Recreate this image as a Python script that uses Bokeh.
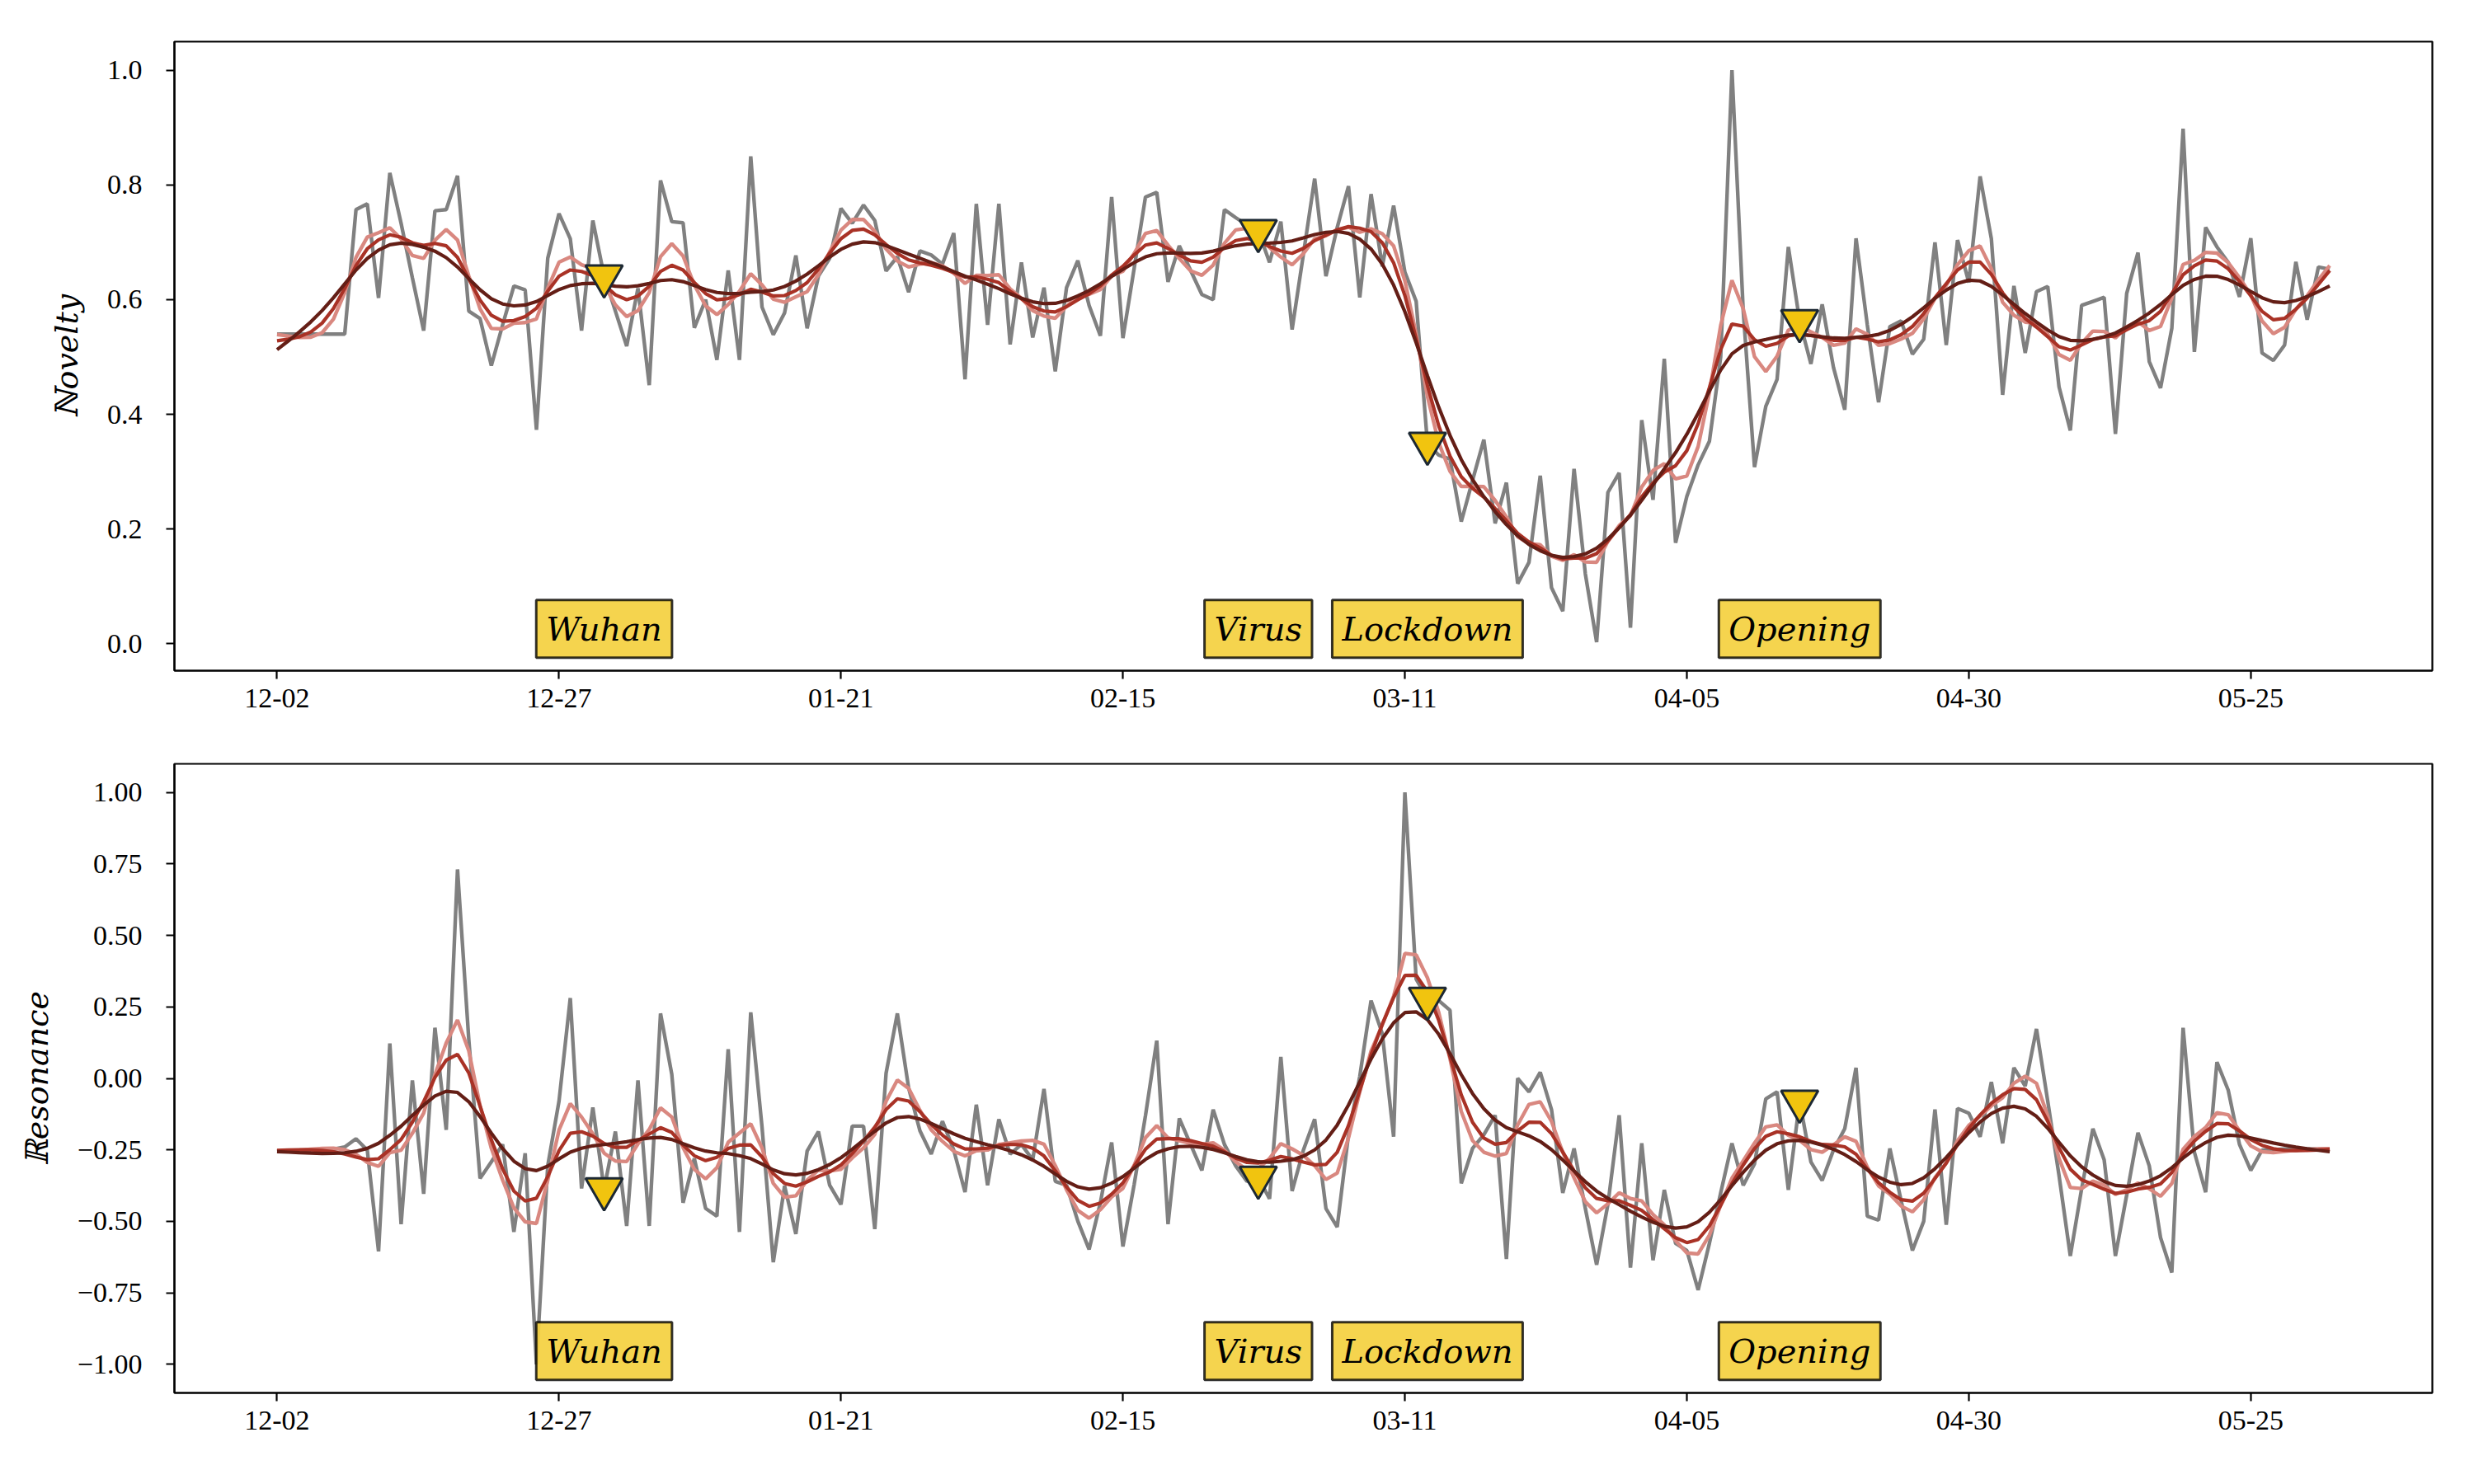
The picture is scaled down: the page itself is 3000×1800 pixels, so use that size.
import numpy as np
import pandas as pd
from bokeh.plotting import figure
from bokeh.models import ColumnDataSource, Range1d, FixedTicker, DatetimeTickFormatter, Label
from bokeh.layouts import column
from bokeh.embed import file_html
from bokeh.resources import INLINE

# ---------------- data ----------------
start_date = "2019-12-02"

novelty = [
    .54, .54, .54, .54, .54, .54, .54, .757, .767, .603,
    .821, .733, .638, .546, .755, .757, .816, .58, .567, .485,
    .556, .624, .617, .373, .672, .75, .706, .546, .738, .641,
    .58, .519, .62, .451, .808, .736, .734, .551, .60, .495,
    .651, .495, .85, .587, .539, .577, .677, .55, .641, .672,
    .759, .733, .765, .738, .65, .675, .613, .685, .678, .662,
    .716, .461, .767, .556, .767, .522, .665, .534, .621, .475,
    .621, .668, .59, .537, .779, .533, .655, .779, .787, .631,
    .694, .651, .609, .60, .757, .743, .73, .72, .665, .736,
    .548, .679, .811, .641, .726, .798, .604, .784, .658, .764,
    .648, .597, .349, .329, .322, .213, .285, .356, .21, .281,
    .105, .142, .293, .098, .057, .305, .122, .003, .264, .298,
    .028, .39, .251, .497, .176, .257, .312, .353, .50, 1.0,
    .58, .308, .414, .461, .692, .563, .488, .592, .482, .408,
    .707, .556, .421, .553, .563, .505, .531, .70, .521, .704,
    .63, .815, .706, .434, .624, .507, .614, .623, .448, .372,
    .59, .597, .604, .366, .611, .682, .492, .446, .55, .898,
    .509, .726, .692, .665, .605, .707, .507, .494, .521, .666,
    .565, .657, .653,
]

resonance = [
    -.254, -.253, -.252, -.25, -.249, -.248, -.24, -.211, -.251, -.605,
    .122, -.51, -.007, -.404, .177, -.18, .731, .136, -.35, -.292,
    -.231, -.537, -.262, -1.0, -.306, -.08, .281, -.385, -.102, -.387,
    -.186, -.516, -.007, -.516, .227, .014, -.435, -.28, -.455, -.482,
    .102, -.537, .231, -.17, -.643, -.376, -.544, -.254, -.186, -.374,
    -.441, -.167, -.167, -.527, .018, .227, -.034, -.183, -.265, -.15,
    -.251, -.398, -.092, -.374, -.143, -.265, -.231, -.285, -.037, -.36,
    -.374, -.499, -.598, -.435, -.224, -.588, -.37, -.13, .132, -.51,
    -.14, -.231, -.322, -.109, -.231, -.306, -.36, -.347, -.421, .075,
    -.394, -.251, -.143, -.455, -.52, -.197, .007, .272, .156, -.204,
    1.0, .347, .279, .272, .238, -.367, -.245, -.197, -.129, -.632,
    0.0, -.047, .021, -.109, -.401, -.245, -.455, -.652, -.441, -.129,
    -.662, -.227, -.636, -.39, -.577, -.602, -.74, -.577, -.401, -.227,
    -.374, -.299, -.072, -.047, -.39, -.081, -.292, -.357, -.251, -.176,
    .037, -.482, -.496, -.245, -.428, -.602, -.5, -.109, -.512, -.105,
    -.122, -.204, -.013, -.227, .037, -.027, .173, -.08, -.34, -.621,
    -.387, -.176, -.285, -.621, -.408, -.19, -.306, -.557, -.679, .177,
    -.258, -.398, .057, -.041, -.231, -.322, -.251, -.249, -.247, -.247,
    -.247, -.247, -.247,
]

event_names = ["Wuhan", "Virus", "Lockdown", "Opening"]
event_dates = ["2019-12-31", "2020-02-27", "2020-03-13", "2020-04-15"]

x_tick_dates = ["2019-12-02", "2019-12-27", "2020-01-21", "2020-02-15",
                "2020-03-11", "2020-04-05", "2020-04-30", "2020-05-25"]

novelty_ticks = [0.0, 0.2, 0.4, 0.6, 0.8, 1.0]
novelty_tick_labels = ["0.0", "0.2", "0.4", "0.6", "0.8", "1.0"]
resonance_ticks = [-1.0, -0.75, -0.5, -0.25, 0.0, 0.25, 0.5, 0.75, 1.0]
resonance_tick_labels = ["\u22121.00", "\u22120.75", "\u22120.50", "\u22120.25",
                         "0.00", "0.25", "0.50", "0.75", "1.00"]

# smoothing strengths (penalised-spline lambda) for the three smoothed curves
smoothing = [2.0, 8.0, 45.0]

# ---------------- helpers ----------------
def smooth_spline(y, lam):
    """Discrete cubic smoothing spline (Whittaker smoother, 2nd differences)."""
    y = np.asarray(y, dtype=float)
    n = len(y)
    D = np.diff(np.eye(n), 2, axis=0)
    A = np.eye(n) + lam * D.T @ D
    return np.linalg.solve(A, y)


def ms(d):
    return pd.Timestamp(d).value / 1e6


dates = pd.date_range(start_date, periods=len(novelty), freq="D")
n = len(dates)
day_ms = 86400000.0
x_start = ms(dates[0]) - 0.05 * (n - 1) * day_ms
x_end = ms(dates[-1]) + 0.05 * (n - 1) * day_ms

GRAY = "#808080"
LIGHT = "#D98880"
RED = "#A93226"
DARK = "#641E16"
SERIF = "Liberation Serif"
MATH = "DejaVu Serif"


def make_panel(values, ylabel, yticks, ylabels, height, top_b, bottom_b):
    vals = np.asarray(values, dtype=float)
    lo, hi = vals.min(), vals.max()
    pad = 0.05 * (hi - lo)
    p = figure(width=2969, height=height, x_axis_type="datetime",
               output_backend="svg", toolbar_location=None,
               x_range=Range1d(x_start, x_end),
               y_range=Range1d(lo - pad, hi + pad),
               min_border_left=211, min_border_right=20,
               min_border_top=top_b, min_border_bottom=bottom_b)
    p.background_fill_color = "white"
    p.border_fill_color = "white"
    p.outline_line_color = "black"
    p.outline_line_width = 2.2
    p.xgrid.grid_line_color = None
    p.ygrid.grid_line_color = None

    src = ColumnDataSource(dict(
        date=dates, raw=vals,
        s1=smooth_spline(vals, smoothing[0]),
        s2=smooth_spline(vals, smoothing[1]),
        s3=smooth_spline(vals, smoothing[2])))
    p.line("date", "raw", source=src, line_color=GRAY, line_width=4.4)
    p.line("date", "s1", source=src, line_color=LIGHT, line_width=4.4)
    p.line("date", "s2", source=src, line_color=RED, line_width=4.2)
    p.line("date", "s3", source=src, line_color=DARK, line_width=4.2)

    ev_idx = [(pd.Timestamp(d) - dates[0]).days for d in event_dates]
    ev_src = ColumnDataSource(dict(date=pd.to_datetime(event_dates),
                                   y=[vals[i] for i in ev_idx]))
    p.scatter("date", "y", source=ev_src, marker="inverted_triangle", size=45,
              fill_color="#F1C40F", line_color="#1C2833", line_width=3)

    for name, d in zip(event_names, event_dates):
        p.add_layout(Label(x=ms(d), y=lo, text=name, text_align="center",
                           text_baseline="middle", y_offset=16, text_font=MATH,
                           text_font_style="italic", text_font_size="40px",
                           text_color="black",
                           background_fill_color="#F4D03F", background_fill_alpha=0.92,
                           border_line_color="black", border_line_alpha=0.8,
                           border_line_width=3, padding=12))

    xa = p.xaxis[0]
    xa.ticker = FixedTicker(ticks=[ms(d) for d in x_tick_dates])
    fmt = "%m-%d"
    xa.formatter = DatetimeTickFormatter(microseconds=fmt, milliseconds=fmt, seconds=fmt,
                                         minsec=fmt, minutes=fmt, hourmin=fmt, hours=fmt,
                                         days=fmt, months=fmt, years=fmt)
    ya = p.yaxis[0]
    ya.ticker = FixedTicker(ticks=yticks)
    ya.major_label_overrides = {t: l for t, l in zip(yticks, ylabels)}
    ya.axis_label = ylabel
    ya.axis_label_text_font = MATH
    ya.axis_label_text_font_style = "italic"
    ya.axis_label_text_font_size = "38px"
    ya.axis_label_text_color = "black"
    ya.axis_label_standoff = 24
    for ax in (xa, ya):
        ax.axis_line_color = "black"
        ax.axis_line_width = 2.2
        ax.major_tick_line_color = "black"
        ax.major_tick_line_width = 2.2
        ax.major_tick_out = 10
        ax.major_tick_in = 0
        ax.minor_tick_line_color = None
        ax.major_label_text_font = SERIF
        ax.major_label_text_font_size = "34px"
        ax.major_label_text_color = "black"
    xa.major_label_standoff = 12
    ya.major_label_standoff = 29
    return p


p1 = make_panel(novelty, "\u2115ovelty", novelty_ticks, novelty_tick_labels, 873, 50, 60)
p2 = make_panel(resonance, "\u211Desonance", resonance_ticks, resonance_tick_labels, 896, 53, 80)

layout = column(p1, p2)
open("out.html", "w").write(file_html(layout, INLINE))
